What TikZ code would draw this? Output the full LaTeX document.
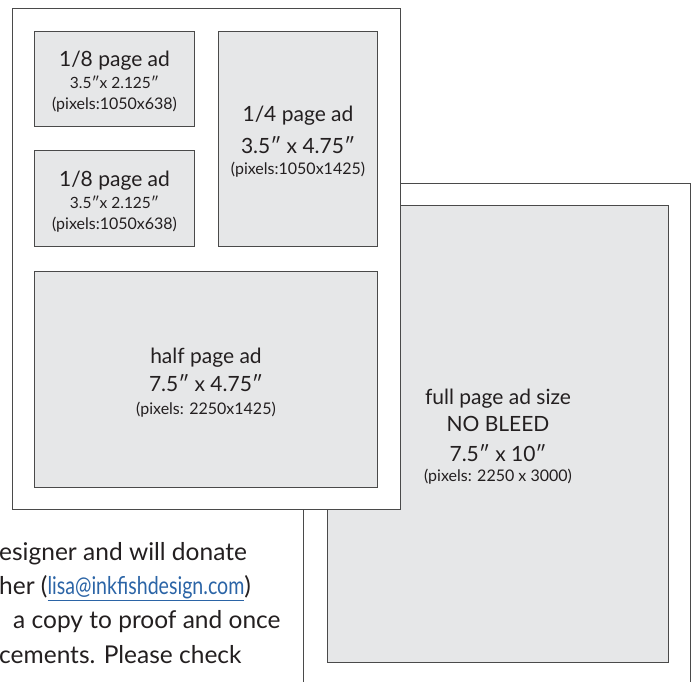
\documentclass[tikz,border=0pt]{standalone}
\usepackage{fontspec}
\setmainfont{Lato}
\usepackage{tikz}
\usetikzlibrary{positioning}
\definecolor{adgray}{HTML}{E6E7E8}
\definecolor{edgegray}{HTML}{4A4A4A}
\definecolor{inkblack}{HTML}{231F20}
\definecolor{linkblue}{HTML}{2B64A6}
\newcommand{\titlesz}{\fontsize{21}{21}\selectfont}
\newcommand{\subsz}{\fontsize{16}{21}\selectfont}
\newcommand{\inchsz}{\fontsize{15.5}{21}\selectfont}
\newcommand{\notesz}{\fontsize{24.5}{30}\selectfont}

\begin{document}
\begin{tikzpicture}[x=1pt,y=-1pt,
  page/.style={draw=edgegray,line width=1.1pt,fill=white,anchor=north west,inner sep=0pt},
  adbox/.style={draw=edgegray,line width=1pt,fill=adgray,anchor=north west,inner sep=0pt},
  adtext/.style={align=center,inner sep=0pt,text=inkblack,font=\subsz},
  note/.style={anchor=base west,inner sep=0pt,text=inkblack,font=\notesz}]
\useasboundingbox (0,0) rectangle (694,681);
\clip (0,0) rectangle (694,681);
\node[page,minimum width=387pt,minimum height=530pt](fullpage)at(303,183){};
\node[adbox,minimum width=341pt,minimum height=457pt](fullad)at(327,205){};
\node[adtext](fulltxt)at([yshift=-3pt]fullad.center){\titlesz full page ad size\\[6pt]\titlesz NO BLEED\\[9pt]\titlesz 7.5″ x 10″\\[-1pt](pixels: 2250 x 3000)};
\node[page,minimum width=388pt,minimum height=501pt](smallpage)at(12,8){};
\node[adbox,minimum width=160pt,minimum height=95pt](eighthtop)at(34,31){};
\node[adbox,minimum width=160pt,minimum height=96pt](eighthlow)at(34,150){};
\node[adbox,minimum width=159pt,minimum height=215pt](quarter)at(218,31){};
\node[adbox,minimum width=343pt,minimum height=216pt](half)at(34,271){};
\node[adtext](eighthtoptxt)at([yshift=-3pt]eighthtop.center){\titlesz 1/8 page ad\\[1pt]\inchsz 3.5″x 2.125″\\(pixels:1050x638)};
\node[adtext](eighthlowtxt)at([yshift=-3pt]eighthlow.center){\titlesz 1/8 page ad\\[1pt]\inchsz 3.5″x 2.125″\\(pixels:1050x638)};
\node[adtext](quartertxt)at([yshift=-3pt]quarter.center){\titlesz 1/4 page ad\\[11pt]\titlesz 3.5″ x 4.75″\\(pixels:1050x1425)};
\node[adtext](halftxt)at([yshift=-3pt]half.center){\titlesz half page ad\\[7pt]\titlesz 7.5″ x 4.75″\\[2pt](pixels: 2250x1425)};
\node[note](lineone)at(-1,560){esigner and will donate};
\node[note](linetwo)at(-1,594){her (\textcolor{linkblue}{\underline{\scalebox{0.8}[1]{lisa@inkfishdesign.com}}})};
\node[note](linethree)at(13,628){a copy to proof and once};
\node[note](linefour)at(-1,663){cements. Please check};
\end{tikzpicture}
\end{document}
